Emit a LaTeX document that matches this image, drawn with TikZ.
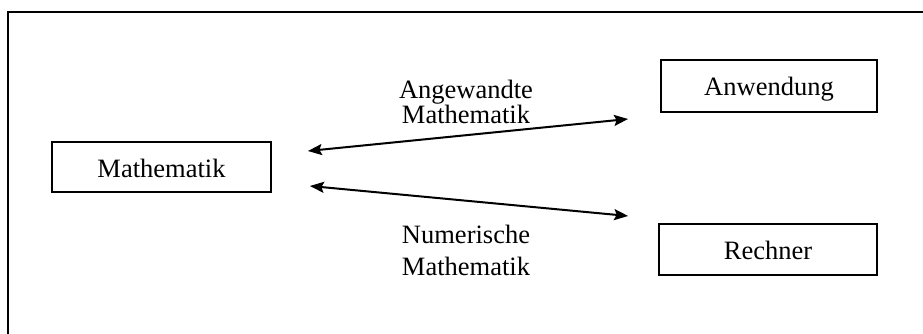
\documentclass[tikz,border=0pt]{standalone}
\usepackage{fontspec}
\setmainfont{Liberation Serif}
\usetikzlibrary{arrows.meta,calc}
\begin{document}
\begin{tikzpicture}[x=1pt,y=-1pt,
  boxnode/.style={draw,line width=1.8pt,inner sep=0pt,text height=20pt,text depth=0pt,font=\fontsize{26.5}{28}\selectfont},
  lbl/.style={align=center,inner sep=0pt},
  tip/.style={Stealth[length=14pt,width=11pt,inset=2.5pt]},
  arr/.style={line width=2pt,{Stealth[length=14pt,width=11pt,inset=2.5pt]}-{Stealth[length=14pt,width=11pt,inset=2.5pt]}}
]
\useasboundingbox (0,0) rectangle (923,334);
\draw[line width=1.8pt] (923,12) -- (8,12) -- (8,334);
\node[boxnode,minimum width=219pt,minimum height=50pt] (m) at (161.5,167) {Mathematik};
\node[boxnode,minimum width=216pt,minimum height=52pt] (a) at (769,86) {Anwendung};
\node[boxnode,minimum width=218pt,minimum height=51pt] (r) at (768,249.5) {Rechner};
\node[lbl,font=\fontsize{26.5}{24}\selectfont] (la) at (466,102) {Angewandte\\Mathematik};
\node[lbl,font=\fontsize{26.5}{32}\selectfont] (ln) at (466,250) {Numerische\\Mathematik};
\draw[arr,shorten <=36.2pt,shorten >=32.2pt] ([yshift=12.4pt]m.east) -- ([yshift=-29.8pt]a.west);
\draw[arr,shorten <=38.2pt,shorten >=30.1pt] ([yshift=-15.4pt]m.east) -- ([yshift=30.7pt]r.west);
\end{tikzpicture}
\end{document}
